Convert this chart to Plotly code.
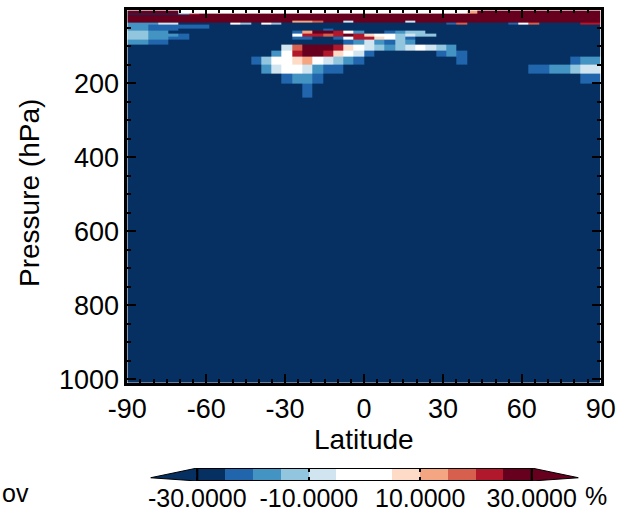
import numpy as np
import plotly.graph_objects as go

W, H = 627, 514

# ---------------- data ----------------
lat_edges = list(np.linspace(-90, 90, 47))          # 46 latitude columns
p_edges = [3, 10, 14, 30, 36, 42, 51, 57, 64, 72, 82, 96, 111, 128, 150,
           174, 201, 239, 300, 400, 500, 600, 700, 850, 1010]   # 24 rows

lat_ticks = [-90, -60, -30, 0, 30, 60, 90]
lat_ticktext = ['-90', '-60', '-30', '0', '30', '60', '90']
p_ticks = [200, 400, 600, 800, 1000]

levels = [-30, -25, -20, -15, -10, -5, 0, 5, 10, 15, 20, 25, 30]
level_colors = ['#053061', '#2166ac', '#4393c3', '#92c5de', '#d1e5f0', '#ffffff',
                '#ffffff', '#fddbc7', '#f4a582', '#d6604d', '#b2182b', '#67001f']
under_color = '#053061'
over_color = '#67001f'
cb_ticks = [-30, -10, 10, 30]
cb_ticktext = ['-30.0000', '-10.0000', '10.0000', '30.0000']

# class code -> value (%)
code_value = {'N': -35, 'b': -22.5, 'c': -17.5, 'd': -12.5, 'e': -7.5, 'w': 0,
              'f': 7.5, 'g': 12.5, 'h': 17.5, 'i': 22.5, 'j': 27.5, 'R': 35}

row_default = ['R', 'R', 'R', 'R'] + ['N'] * 20
row_cells = [
    [(5, 'wwwwwwwwwwwwwwwwwwwwwwwwwwww'), (33, 'g')],
    [(0, 'NNNNN'), (5, 'ci')],
    [],
    [(16, 'ggh'), (21, 'e'), (27, 'e')],
    [(0, 'cccee'), (10, 'wd'), (13, 'wd'), (31, 'bh'), (37, 'bwh'), (44, 'ii')],
    [(0, 'ccbbbbbb')],
    [(0, 'ccbbb'), (19, 'b')],
    [(0, 'ddcc'), (16, 'bgjjiwc'), (25, 'bcdd')],
    [(0, 'ddcccb'), (16, 'wiihijifwwdedd')],
    [(0, 'ddccbb'), (16, 'bb'), (20, 'bwiifwdb')],
    [(0, 'ccbb'), (21, 'bcecbdc')],
    [(15, 'ehjjjifwedcdewedc')],
    [(14, 'cwijjifweb'), (30, 'bcb')],
    [(12, 'bdwwfgwedcb'), (32, 'b'), (43, 'bcc')],
    [(13, 'cewwecbb'), (39, 'bbccdee')],
    [(15, 'bccb'), (44, 'bb')],
    [(17, 'b')],
] + [[] for _ in range(7)]

ncol = len(lat_edges) - 1
z = []
for default, cells in zip(row_default, row_cells):
    row = [default] * ncol
    for start, codes in cells:
        for k, ch in enumerate(codes):
            row[start + k] = ch
    z.append([code_value[c] for c in row])

# ---------------- colour scale ----------------
zmin, zmax = -35, 35
def nrm(v):
    return (v - zmin) / (zmax - zmin)
bounds = [zmin] + levels + [zmax]
cols = [under_color] + level_colors + [over_color]
cs = []
for i, c in enumerate(cols):
    cs.append([nrm(bounds[i]), c])
    cs.append([nrm(bounds[i + 1]), c])

FONT = 'Liberation Sans'

fig = go.Figure()
fig.add_trace(go.Heatmap(x=lat_edges, y=p_edges, z=z, colorscale=cs,
                         zmin=zmin, zmax=zmax, showscale=False, hoverinfo='skip'))

# colour bar as its own small axes
cb_mid = [(levels[i] + levels[i + 1]) / 2 for i in range(len(levels) - 1)]
fig.add_trace(go.Heatmap(x=levels, y=[0, 1], z=[cb_mid], colorscale=cs,
                         zmin=zmin, zmax=zmax, showscale=False,
                         xaxis='x2', yaxis='y2', hoverinfo='skip'))
ext = 8.4
tip = 0.25
fig.add_trace(go.Scatter(x=[levels[0], levels[0] - ext, levels[0], levels[0]],
                         y=[1, tip, 0, 1], fill='toself', fillcolor=under_color,
                         mode='lines', line=dict(color='black', width=1),
                         xaxis='x2', yaxis='y2', hoverinfo='skip'))
fig.add_trace(go.Scatter(x=[levels[-1], levels[-1] + ext, levels[-1], levels[-1]],
                         y=[1, tip, 0, 1], fill='toself', fillcolor=over_color,
                         mode='lines', line=dict(color='black', width=1),
                         xaxis='x2', yaxis='y2', hoverinfo='skip'))

fig.add_shape(type='rect', xref='x2', yref='y2', x0=levels[0], x1=levels[-1],
              y0=0, y1=1, line=dict(color='black', width=2))

tickfont = dict(family=FONT, size=27, color='black')
titlefont = dict(family=FONT, size=28, color='black')
cbfont = dict(family=FONT, size=25, color='black')
fig.update_layout(
    width=W, height=H, margin=dict(l=0, r=0, t=0, b=0, autoexpand=False),
    paper_bgcolor='white', plot_bgcolor='white', showlegend=False,
    xaxis=dict(domain=[127.3 / W, 600.7 / W], range=[-90, 90],
               tickvals=lat_ticks, ticktext=lat_ticktext, ticks='inside',
               ticklen=9, tickwidth=2, tickcolor='black',
               minor=dict(dtick=5, ticks='inside', ticklen=4, tickwidth=1.5,
                          tickcolor='black'),
               showline=True, linewidth=2.5, linecolor='black', mirror='ticks',
               showgrid=False, zeroline=False, tickfont=tickfont, anchor='y',
               ticklabelstandoff=0, automargin=False),
    yaxis=dict(domain=[(H - 383) / H, (H - 9.5) / H], range=[1010, 0],
               tickvals=p_ticks, ticks='inside',
               ticklen=9, tickwidth=2, tickcolor='black',
               minor=dict(dtick=50, ticks='inside', ticklen=4, tickwidth=1.5,
                          tickcolor='black'),
               showline=True, linewidth=2.5, linecolor='black', mirror='ticks',
               showgrid=False, zeroline=False, tickfont=tickfont, anchor='x',
               ticklabelstandoff=0, automargin=False),
    xaxis2=dict(domain=[150.5 / W, 578.5 / W], range=[-38.4, 38.4],
                anchor='y2', tickvals=cb_ticks, ticktext=cb_ticktext,
                ticks='inside', ticklen=4, tickwidth=1.5, tickcolor='black',
                mirror='ticks', showline=False, showgrid=False, zeroline=False,
                tickfont=cbfont, automargin=False, ticklabelstandoff=0),
    yaxis2=dict(domain=[(H - 481) / H, (H - 468) / H], range=[0, 1],
                anchor='x2', visible=False),
)

def note(text, px, py, font, **kw):
    fig.add_annotation(text=text, x=px / W, y=(H - py) / H, xref='paper',
                       yref='paper', showarrow=False, font=font,
                       yanchor='middle', **kw)

note('Latitude', 364, 439, titlefont, xanchor='center')
note('Pressure (hPa)', 29, 193, titlefont, xanchor='center', textangle=-90)
note('ov', 0, 493, cbfont, xanchor='left')
note('%', 596, 496, cbfont, xanchor='center')

fig.write_html('out.html', config={'displayModeBar': False},
               post_script="document.body.style.margin='0';document.body.style.padding='0';document.documentElement.style.overflow='hidden';")
